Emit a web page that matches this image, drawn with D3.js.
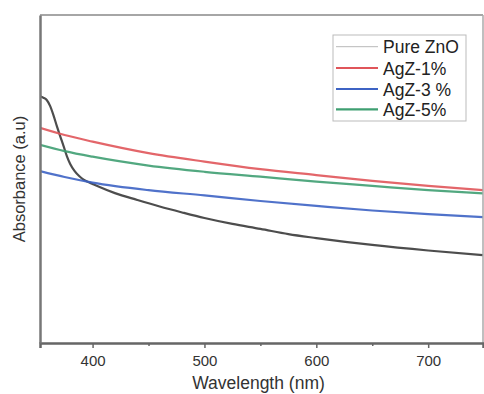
<!DOCTYPE html>
<html><head><meta charset="utf-8">
<script src="https://cdn.jsdelivr.net/npm/d3@7"></script>
<style>body{margin:0;background:#fff}svg{display:block}text{font-family:"Liberation Sans",Arial,sans-serif}</style>
</head><body><svg id="c" width="484" height="394"></svg>
<script>
const wlZnO = [353,356,359,362,365,368,371,374,377,380,384,388,392,396,400,420,440,460,480,500,525,550,575,600,650,700,749];
const absZnO = [0.752,0.748,0.741,0.723,0.695,0.662,0.631,0.601,0.570,0.546,0.524,0.509,0.498,0.491,0.485,0.457,0.436,0.416,0.398,0.381,0.363,0.348,0.332,0.320,0.299,0.282,0.268];
const wlAg = [353,375,400,450,500,550,600,650,700,749];
const absAg1 = [0.656,0.634,0.614,0.579,0.553,0.530,0.512,0.494,0.479,0.466];
const absAg3 = [0.524,0.506,0.489,0.466,0.450,0.433,0.418,0.404,0.393,0.384];
const absAg5 = [0.604,0.585,0.568,0.541,0.522,0.507,0.492,0.479,0.466,0.456];
const seriesNames = ["Pure ZnO","AgZ-1%","AgZ-3 %","AgZ-5%"];
const seriesColors = ["#3a3a3a","#e0555a","#3d63c4","#3f9f72"];
const legendColors = ["#b8b8b8","#e0555a","#3d63c4","#3f9f72"];
const majorTicks = [400,500,600,700];
const minorTicks = [450,550,650];

const series = [
  {name: seriesNames[0], wl: wlZnO, v: absZnO},
  {name: seriesNames[1], wl: wlAg, v: absAg1},
  {name: seriesNames[2], wl: wlAg, v: absAg3},
  {name: seriesNames[3], wl: wlAg, v: absAg5}
];

const L = 40, R = 483, T = 15, B = 343;
const svg = d3.select("#c");
const x = d3.scaleLinear().domain([353, 749]).range([L, R]);
const y = d3.scaleLinear().domain([0, 1]).range([B, T]);

svg.append("clipPath").attr("id","clip").append("rect")
  .attr("x", L).attr("y", T).attr("width", R - L).attr("height", B - T);

const line = d3.line().x(d => x(d[0])).y(d => y(d[1])).curve(d3.curveMonotoneX);
const g = svg.append("g").attr("clip-path","url(#clip)");
series.forEach((s, i) => {
  g.append("path")
    .datum(s.wl.map((w, j) => [w, s.v[j]]))
    .attr("d", line).attr("fill","none")
    .attr("stroke", seriesColors[i]).attr("stroke-width", 2.2)
    .attr("stroke-opacity", 0.9);
});

// frame
svg.append("line").attr("x1", L).attr("x2", R).attr("y1", T).attr("y2", T).attr("stroke","#888").attr("stroke-width",1.5);
svg.append("line").attr("x1", R).attr("x2", R).attr("y1", T).attr("y2", B).attr("stroke","#aaa").attr("stroke-width",1.5);

// axes
const xAxis = d3.axisBottom(x).tickValues(majorTicks).tickSize(5).tickPadding(7).tickFormat(d3.format("d"));
const ax = svg.append("g").attr("transform",`translate(0,${B})`).call(xAxis);
ax.select(".domain").attr("stroke","#666").attr("stroke-width",2.5);
ax.selectAll(".tick line").attr("stroke","#666").attr("stroke-width",1.5);
ax.selectAll(".tick text").attr("font-size",15).attr("fill","#333")
  .attr("font-family",'"Liberation Sans",Arial,sans-serif');
const axm = svg.append("g").attr("transform",`translate(0,${B})`)
  .call(d3.axisBottom(x).tickValues(minorTicks).tickSize(3).tickFormat(""));
axm.select(".domain").remove();
axm.selectAll(".tick line").attr("stroke","#666").attr("stroke-width",1.5);

const yAxis = d3.axisLeft(y).tickValues([]).tickSize(0);
const ay = svg.append("g").attr("transform",`translate(${L},0)`).call(yAxis);
ay.select(".domain").attr("stroke","#777").attr("stroke-width",2.5);

// titles
svg.append("text").attr("x", (92.7+428.3)/2 - 2).attr("y", 388.5)
  .attr("text-anchor","middle").attr("font-size",17.5).attr("fill","#333").text("Wavelength (nm)");
svg.append("text").attr("transform","translate(25,179) rotate(-90)")
  .attr("text-anchor","middle").attr("font-size",16.5).attr("fill","#333").text("Absorbance (a.u)");

// legend
const lg = svg.append("g");
lg.append("rect").attr("x",333).attr("y",35).attr("width",133).attr("height",86)
  .attr("fill","#fff").attr("stroke","#bbb").attr("stroke-width",1);
const ly = [46.7, 68, 89, 109.3];
seriesNames.forEach((n, i) => {
  lg.append("line").attr("x1",336).attr("x2",378).attr("y1",ly[i]).attr("y2",ly[i])
    .attr("stroke", legendColors[i]).attr("stroke-width", i === 0 ? 1 : 2.2);
  lg.append("text").attr("x",383).attr("y",ly[i]+6.5).attr("font-size",17.5)
    .attr("fill","#222").text(n);
});
</script></body></html>
